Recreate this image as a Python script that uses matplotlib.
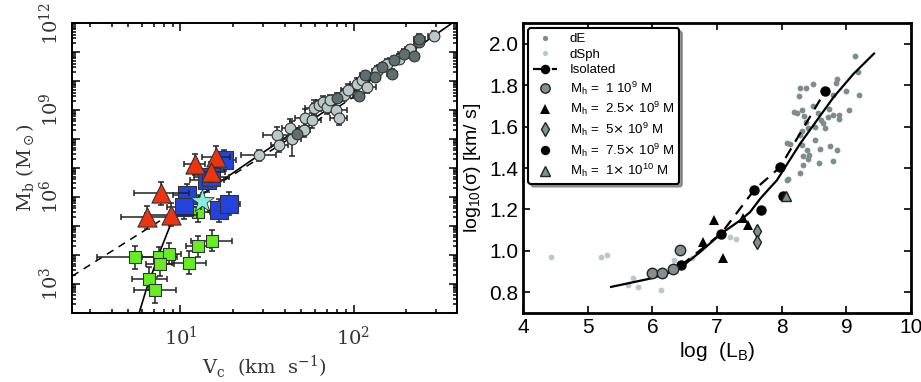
import numpy as np
import matplotlib
matplotlib.use('Agg')
import matplotlib.pyplot as plt
from matplotlib.ticker import LogLocator, FuncFormatter, NullFormatter, MultipleLocator

# ---------------- left panel: baryonic Tully-Fisher (log10 values) ----------------
grey_light_logv = [1.451, 1.557, 1.572, 1.644, 1.634, 1.711, 1.720, 1.759, 1.769, 1.798,
                   1.823, 1.846, 1.865, 1.900, 1.913, 1.942, 1.965, 2.019, 2.048, 2.077,
                   2.135, 2.193, 2.260, 2.328, 2.462]
grey_light_logm = [7.43, 8.12, 7.80, 8.01, 8.39, 8.32, 8.73, 8.64, 9.08, 9.16,
                   9.29, 9.10, 9.33, 9.01, 8.73, 9.52, 9.70, 9.90, 10.02, 9.79,
                   10.36, 10.60, 10.77, 11.11, 11.57]
grey_light_dx = [0.10, 0.08, 0.05, 0.05, 0.05, 0.04, 0.06, 0.05, 0.05, 0.04,
                 0.04, 0.05, 0.04, 0.06, 0.05, 0.04, 0.04, 0.04, 0.03, 0.05,
                 0.03, 0.03, 0.03, 0.03, 0.03]
grey_light_dy = [0.20, 0.30, 0.25, 0.60, 0.30, 0.25, 0.30, 0.25, 0.25, 0.20,
                 0.20, 0.25, 0.20, 0.30, 0.25, 0.20, 0.20, 0.20, 0.20, 0.20,
                 0.15, 0.15, 0.15, 0.15, 0.15]

grey_dark_logv = [1.672, 1.904, 2.029, 2.067, 2.125, 2.164, 2.222, 2.231, 2.289, 2.347,
                  2.376, 2.380]
grey_dark_logm = [8.18, 9.42, 9.48, 10.19, 10.13, 10.48, 10.25, 10.71, 10.94, 10.88,
                  11.34, 11.46]

green_logv = [0.740, 0.879, 0.933, 0.884, 0.821, 0.852, 1.049, 1.101, 1.180, 1.102]
green_logm = [3.92, 3.92, 4.04, 3.67, 3.17, 2.77, 3.72, 4.29, 4.49, 5.47]
green_dx = [0.22, 0.10, 0.07, 0.08, 0.10, 0.12, 0.10, 0.07, 0.12, 0.07]
green_dy = [0.40, 0.35, 0.35, 0.40, 0.40, 0.45, 0.40, 0.35, 0.35, 0.35]

blue_logv = [1.251, 1.039, 1.020, 1.153, 1.178, 1.222, 1.283]
blue_logm = [7.26, 6.05, 5.64, 6.57, 6.68, 5.53, 5.76]
blue_dx = [0.07, 0.08, 0.10, 0.10, 0.10, 0.06, 0.06]
blue_dy = [0.35, 0.40, 0.40, 0.40, 0.40, 0.40, 0.40]

red_logv = [1.083, 1.206, 1.179, 0.890, 0.807, 0.948]
red_logm = [7.12, 7.39, 6.85, 6.13, 5.30, 5.39]
red_dx = [0.06, 0.08, 0.08, 0.16, 0.15, 0.15]
red_dy = [0.35, 0.35, 0.35, 0.40, 0.40, 0.40]

star_logv = [1.122]
star_logm = [5.85]

fit_logv = [0.760, 0.800, 0.884, 0.952, 1.039, 1.145, 1.241, 1.449, 2.000, 2.569]
fit_logm = [1.96, 2.75, 4.15, 5.18, 5.76, 6.16, 6.57, 7.42, 9.62, 12.00]
dash_logv = [0.374, 0.817, 1.449, 2.000]
dash_logm = [3.26, 4.93, 7.31, 9.45]

# ---------------- right panel: Faber-Jackson ----------------
dE_x = [9.14, 9.18, 9.20, 8.99, 8.86, 8.84, 8.79, 8.48, 8.37, 8.29, 8.27, 9.04, 8.88, 8.88,
        8.80, 8.73, 8.72, 8.56, 8.48, 8.32, 8.19, 8.24, 8.35, 8.38, 8.61, 8.64, 8.67, 8.52,
        8.41, 8.31, 8.29, 8.08, 8.31, 8.51, 8.39, 8.59, 8.74, 8.86, 8.33, 8.42, 8.41, 8.33,
        8.58, 8.80, 8.29, 8.08, 8.09, 8.13]
dE_y = [1.94, 1.862, 1.753, 1.773, 1.828, 1.809, 1.754, 1.806, 1.788, 1.785, 1.748, 1.68, 1.658, 1.637,
        1.658, 1.685, 1.648, 1.664, 1.70, 1.68, 1.672, 1.664, 1.65, 1.624, 1.634, 1.616, 1.594, 1.60,
        1.594, 1.577, 1.561, 1.521, 1.512, 1.533, 1.489, 1.492, 1.505, 1.488, 1.46, 1.463, 1.442, 1.415,
        1.426, 1.433, 1.377, 1.343, 1.345, 1.518]
dSph_x = [4.44, 5.21, 5.30, 5.62, 5.70, 5.77, 6.13, 6.33, 6.61, 7.20, 7.29]
dSph_y = [0.97, 0.969, 0.978, 0.834, 0.87, 0.826, 0.813, 0.955, 0.967, 1.068, 1.055]

iso_x = [6.443, 7.062, 7.577, 7.974, 8.670]
iso_y = [0.930, 1.083, 1.295, 1.404, 1.770]
fj_fit_x = [5.361, 5.964, 6.222, 6.479, 6.737, 7.062, 7.356, 7.510, 7.665, 7.793, 7.923,
            8.283, 8.799, 9.108, 9.428]
fj_fit_y = [0.826, 0.866, 0.890, 0.930, 0.994, 1.083, 1.147, 1.187, 1.251, 1.296, 1.340,
            1.517, 1.741, 1.854, 1.953]

mh1_x = [5.990, 6.144, 6.325, 6.428]
mh1_y = [0.893, 0.895, 0.914, 1.002]
mh25_x = [6.953, 6.778, 7.098, 7.397, 7.474]
mh25_y = [1.150, 1.042, 0.967, 1.158, 1.126]
mh5_x = [7.613, 7.613]
mh5_y = [1.094, 1.042]
mh75_x = [7.680, 8.016]
mh75_y = [1.199, 1.267]
mh10_x = [8.067]
mh10_y = [1.267]

fig = plt.figure(figsize=(9.21, 3.82), dpi=100)

# ================= left =================
SERIF = 'DejaVu Serif'
ax = fig.add_axes([0.0782, 0.1806, 0.418, 0.759])


def ebar(lv, lm, dx, dy, **kw):
    lv = np.array(lv); lm = np.array(lm); dx = np.array(dx); dy = np.array(dy)
    v = 10 ** lv
    m = 10 ** lm
    xe = [v - 10 ** (lv - dx), 10 ** (lv + dx) - v]
    ye = [m - 10 ** (lm - dy), 10 ** (lm + dy) - m]
    ax.errorbar(v, m, xerr=xe, yerr=ye, fmt='none', ecolor='#222222', elinewidth=1.1,
                capsize=2.2, capthick=1.1, zorder=kw.get('zorder', 3) - 0.5)


ax.plot(10 ** np.array(dash_logv), 10 ** np.array(dash_logm), color='black', ls=(0, (5, 4)),
        lw=1.1, zorder=2)
ax.plot(10 ** np.array(fit_logv), 10 ** np.array(fit_logm), color='black', lw=1.2, zorder=2)

ebar(grey_light_logv, grey_light_logm, grey_light_dx, grey_light_dy, zorder=4)
ax.scatter(10 ** np.array(grey_light_logv), 10 ** np.array(grey_light_logm), s=60,
           c='#b9c8c8', edgecolors='#333333', linewidths=0.8, zorder=4)
ebar(grey_dark_logv, grey_dark_logm, [0.03] * len(grey_dark_logv), [0.15] * len(grey_dark_logv), zorder=4)
ax.scatter(10 ** np.array(grey_dark_logv), 10 ** np.array(grey_dark_logm), s=60,
           c='#5f6e6e', edgecolors='#333333', linewidths=0.8, zorder=4)

ebar(green_logv, green_logm, green_dx, green_dy, zorder=5)
ax.scatter(10 ** np.array(green_logv), 10 ** np.array(green_logm), marker='s', s=70,
           c='#66ee22', edgecolors='#333333', linewidths=0.8, zorder=5)
ebar(blue_logv, blue_logm, blue_dx, blue_dy, zorder=6)
ax.scatter(10 ** np.array(blue_logv), 10 ** np.array(blue_logm), marker='s', s=170,
           c='#2244dd', edgecolors='#333333', linewidths=0.8, zorder=6)
ebar(red_logv, red_logm, red_dx, red_dy, zorder=7)
ax.scatter(10 ** np.array(red_logv), 10 ** np.array(red_logm), marker='^', s=190,
           c='#ee3311', edgecolors='#333333', linewidths=0.8, zorder=7)
ax.scatter(10 ** np.array(star_logv), 10 ** np.array(star_logm), marker='*', s=320,
           c='#88eedd', edgecolors='#333333', linewidths=0.6, zorder=8)

ax.set_xscale('log')
ax.set_yscale('log')
ax.set_xlim(10 ** 0.374, 10 ** 2.597)
ax.set_ylim(10 ** 1.99, 10 ** 12.0)

ax.xaxis.set_major_locator(LogLocator(base=10, numticks=10))
ax.xaxis.set_minor_locator(LogLocator(base=10, subs=np.arange(2, 10), numticks=20))
ax.xaxis.set_minor_formatter(NullFormatter())
ax.xaxis.set_major_formatter(FuncFormatter(
    lambda v, p: r'$\mathregular{10^{%d}}$' % round(np.log10(v))))
ax.yaxis.set_major_locator(LogLocator(base=10, numticks=20))
ax.yaxis.set_minor_locator(LogLocator(base=10, subs=np.arange(2, 10), numticks=40))
ax.yaxis.set_minor_formatter(NullFormatter())
ax.yaxis.set_major_formatter(FuncFormatter(
    lambda v, p: (r'$\mathregular{10^{%d}}$' % round(np.log10(v)))
    if round(np.log10(v)) % 3 == 0 else ''))
ax.tick_params(which='both', direction='in', top=True, right=True, width=1.1)
ax.tick_params(which='major', length=6)
ax.tick_params(which='minor', length=3)
ax.tick_params(axis='x', which='major', pad=9)
ax.tick_params(axis='y', which='major', pad=7)
for lab in ax.get_xticklabels() + ax.get_yticklabels():
    lab.set_fontfamily(SERIF)
    lab.set_fontsize(14)
    lab.set_color('#333333')
for lab in ax.get_yticklabels():
    lab.set_rotation(90)
    lab.set_va('center')
for s in ax.spines.values():
    s.set_linewidth(1.4)
ax.set_xlabel(r'V$_\mathregular{c}$  (km  s$^\mathregular{-1}$)', fontfamily=SERIF,
              fontsize=14, color='#333333', labelpad=4)
ax.set_ylabel(r'M$_\mathregular{b}$ (M$_\odot$)', fontfamily=SERIF, fontsize=14,
              color='#333333', labelpad=2)

# ================= right =================
SANS = 'Liberation Sans'
bx = fig.add_axes([0.5679, 0.1806, 0.4213, 0.759])
bx.plot(dE_x, dE_y, 'o', ms=4.2, color='#7b8d8d', mew=0, label='dE', zorder=2)
bx.plot(dSph_x, dSph_y, 'o', ms=4.2, color='#b9c9c9', mew=0, label='dSph', zorder=2)
bx.plot(fj_fit_x, fj_fit_y, '-', color='black', lw=1.6, zorder=3)
bx.plot(iso_x, iso_y, 'o', ls=(0, (5, 3.5)), color='black', lw=1.6, ms=6.5,
        label='Isolated', zorder=4)
bx.plot(mh1_x, mh1_y, 'o', ms=7.5, color='#808f8f', mec='#222222', mew=1,
        label=r'M$_\mathregular{h}$ =  1 10$^\mathregular{9}$ M', zorder=5)
bx.plot(mh25_x, mh25_y, '^', ms=7.5, color='black', mew=0,
        label=r'M$_\mathregular{h}$ =  2.5$\times$ 10$^\mathregular{9}$ M', zorder=5)
bx.plot(mh5_x, mh5_y, 'd', ms=7.5, color='#808f8f', mec='#222222', mew=1,
        label=r'M$_\mathregular{h}$ =  5$\times$ 10$^\mathregular{9}$ M', zorder=5)
bx.plot(mh75_x, mh75_y, 'o', ms=7.5, color='black', mew=0,
        label=r'M$_\mathregular{h}$ =  7.5$\times$ 10$^\mathregular{9}$ M', zorder=5)
bx.plot(mh10_x, mh10_y, '^', ms=7.5, color='#808f8f', mec='#222222', mew=1,
        label=r'M$_\mathregular{h}$ =  1$\times$ 10$^\mathregular{10}$ M', zorder=5)

bx.set_xlim(4, 10)
bx.set_ylim(0.7, 2.1)
bx.xaxis.set_major_locator(MultipleLocator(1))
bx.yaxis.set_major_locator(MultipleLocator(0.2))
bx.yaxis.set_major_formatter(FuncFormatter(lambda v, p: '%.1f' % v))
bx.tick_params(direction='in', top=True, right=True, length=5, width=1.2, labelsize=15)
for lab in bx.get_xticklabels() + bx.get_yticklabels():
    lab.set_fontfamily(SANS)
for s in bx.spines.values():
    s.set_linewidth(2)
bx.set_xlabel(r'log  (L$_\mathregular{B}$)', fontfamily=SANS, fontsize=15, labelpad=2)
bx.set_ylabel(r'log$_\mathregular{10}$(σ) [km/ s]', fontfamily=SANS, fontsize=14,
              labelpad=4)
leg = bx.legend(loc='upper left', prop={'family': SANS, 'size': 9.5}, shadow=True,
                fancybox=True, framealpha=1, edgecolor='black', borderpad=0.35,
                labelspacing=0.25, handlelength=1.8, handletextpad=1.0,
                borderaxespad=0.4, markerscale=0.9)
leg.get_frame().set_linewidth(1.5)

fig.savefig('out.png', dpi=100)
